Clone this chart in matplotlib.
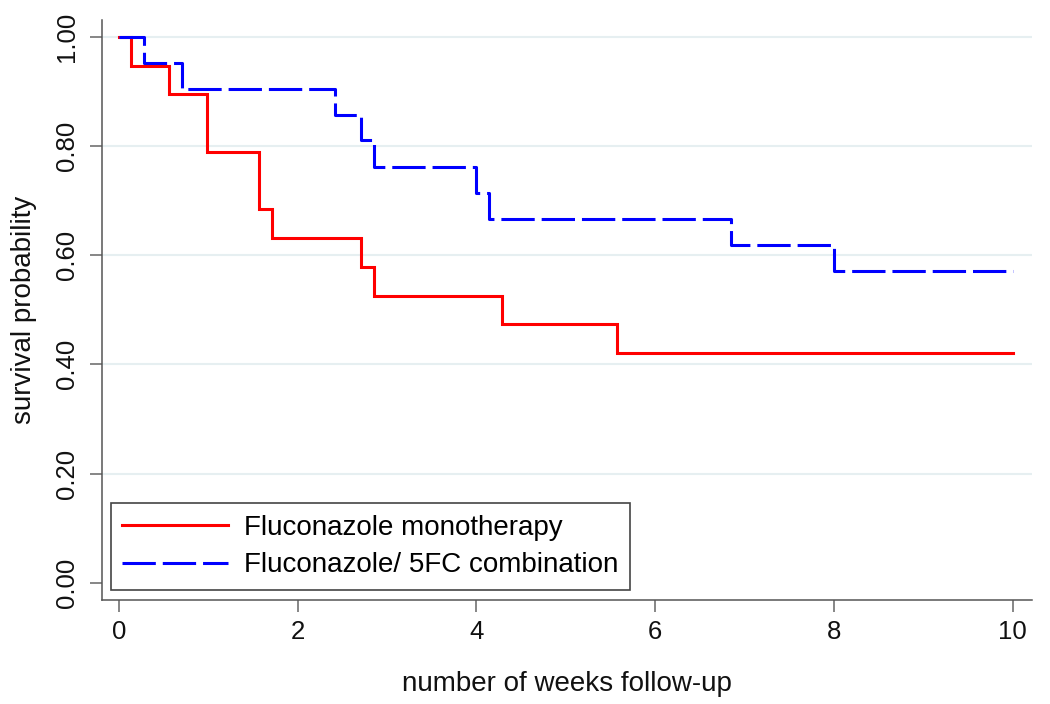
import matplotlib
matplotlib.use("Agg")
import matplotlib.pyplot as plt

# Data (Kaplan-Meier step curves)
mono_label = "Fluconazole monotherapy"
mono_weeks = [0, 0.135, 0.565, 0.99, 1.57, 1.715, 2.71, 2.85, 4.29, 5.57, 10]
mono_surv = [1.0, 0.947, 0.895, 0.789, 0.684, 0.632, 0.579, 0.526, 0.474, 0.421, 0.421]

combo_label = "Fluconazole/ 5FC combination"
combo_weeks = [0, 0.28, 0.71, 2.42, 2.71, 2.85, 4.0, 4.14, 6.85, 8.0, 10]
combo_surv = [1.0, 0.952, 0.905, 0.857, 0.810, 0.762, 0.714, 0.667, 0.619, 0.571, 0.571]

x_ticks = [0, 2, 4, 6, 8, 10]
y_ticks = [0.0, 0.2, 0.4, 0.6, 0.8, 1.0]
y_ticklabels = ["0.00", "0.20", "0.40", "0.60", "0.80", "1.00"]

plt.rcParams["font.family"] = ["Liberation Sans", "DejaVu Sans"]
plt.rcParams["lines.scale_dashes"] = False

fig = plt.figure(figsize=(10.5, 7.04), dpi=100)
ax = fig.add_axes([0.0969, 0.1477, 0.8855, 0.8239])

grid_col = "#e6eff1"
for yv in y_ticks[1:]:
    ax.axhline(yv, color=grid_col, lw=1.5, zorder=0)

ax.step(mono_weeks, mono_surv, where="post", color="#ff0000", lw=2.2,
        label=mono_label, solid_joinstyle="miter")
l2, = ax.step(combo_weeks, combo_surv, where="post", color="#0000ff", lw=2.2,
              label=combo_label)
l2.set_dashes((24, 5))

ax.set_xlim(-0.19, 10.21)
ax.set_ylim(-0.0317, 1.0306)

ax.set_xticks(x_ticks)
ax.set_xticklabels([str(v) for v in x_ticks])
ax.set_yticks(y_ticks)
ax.set_yticklabels(y_ticklabels, rotation=90, va="center")

for s in ["top", "right"]:
    ax.spines[s].set_visible(False)
for s in ["left", "bottom"]:
    ax.spines[s].set_color("#555555")
    ax.spines[s].set_linewidth(1.1)

ax.tick_params(axis="both", direction="out", length=8.5, width=1.1,
               color="#666666", labelsize=18.5, labelcolor="#111111")
ax.tick_params(axis="x", pad=6)
ax.tick_params(axis="y", pad=8)

ax.set_xlabel("number of weeks follow-up", fontsize=20, color="#111111", labelpad=19)
ax.set_ylabel("survival probability", fontsize=20, color="#111111", labelpad=13)

leg = ax.legend(loc="lower left", bbox_to_anchor=(0.0097, 0.0172), borderaxespad=0,
                fontsize=20, handlelength=3.8, handletextpad=0.58, labelspacing=0.42,
                borderpad=0.42, fancybox=False, framealpha=1, edgecolor="#444444")
leg.get_frame().set_linewidth(1.2)

fig.savefig("out.png", dpi=100, facecolor="white")
